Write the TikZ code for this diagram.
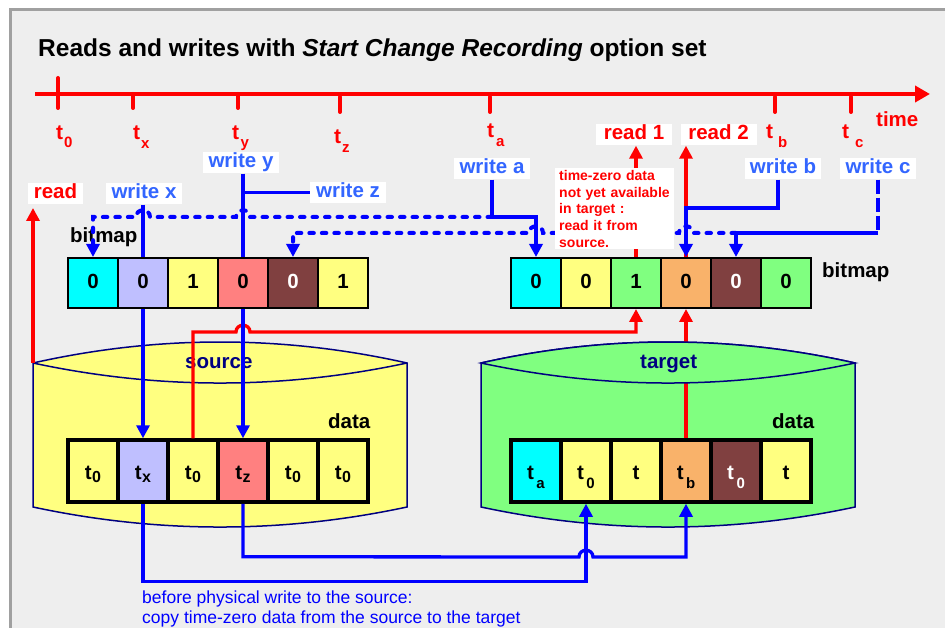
\documentclass[tikz,border=0pt]{standalone}
\usepackage{fontspec}
\setmainfont{Liberation Sans}
\usetikzlibrary{arrows.meta}
\definecolor{panelbg}{HTML}{EEEEEE}
\definecolor{panelbd}{HTML}{A0A0A0}
\definecolor{cCyan}{HTML}{00FFFF}
\definecolor{cLav}{HTML}{BFBFFF}
\definecolor{cYel}{HTML}{FFFF80}
\definecolor{cSal}{HTML}{FF8080}
\definecolor{cBrn}{HTML}{804040}
\definecolor{cGrn}{HTML}{80FF80}
\definecolor{cOra}{HTML}{F9B26A}
\definecolor{wblue}{HTML}{3366FF}
\definecolor{navyc}{HTML}{000080}
\newcommand{\tsb}[3]{t\kern#1\raisebox{-#2}{\fontsize{15}{15}\selectfont #3}}
\begin{document}
\begin{tikzpicture}[x=1pt,y=-1pt,
  arr/.style={-{Triangle[length=13pt,width=13pt]}},
  bl/.style={draw=blue,line width=3.3pt},
  rd/.style={draw=red,line width=3.3pt},
  dsh/.style={line width=4pt, dash pattern=on 4.5pt off 8pt, line cap=round},
  dshlong/.style={dash pattern=on 14pt off 4pt},
  lbl/.style={font=\fontsize{20.5}{24}\selectfont\bfseries, inner sep=0pt},
  tag/.style={lbl, fill=white, text height=14.5pt, text depth=4pt, inner xsep=3pt, inner ysep=1.5pt, minimum width=76pt, anchor=base},
  wtag/.style={tag, text=wblue},
  rtag/.style={tag, text=red},
  cell/.style={draw=black, line width=2pt, minimum width=50pt, minimum height=50pt, inner sep=0pt, text height=15pt, text depth=3pt, font=\fontsize{20.5}{24}\selectfont\bfseries},
  dcell/.style={cell, line width=3.5pt, minimum height=62pt, text height=16pt, text depth=0pt},
  tl/.style={font=\fontsize{21}{24}\selectfont\bfseries, text=red, inner sep=0pt, anchor=base west},
  cyl/.style={draw=navyc, line width=1.5pt}
]
\useasboundingbox (0,0) rectangle (945,628);
\fill[white] (0,0) rectangle (945,628);
\begin{scope}
\clip (0,0) rectangle (945,628);
\draw[panelbd, line width=3pt, fill=panelbg] (10,9.5) rectangle (980,660);
\end{scope}

% title
\node[anchor=base west, inner sep=0pt, font=\fontsize{24.5}{28}\selectfont\bfseries] (title) at (38,57)
  {Reads and writes with \textit{Start Change Recording} option set};

% timeline
\coordinate (tlS) at (35,94);
\coordinate (tlE) at (930,94);
\draw[red, line width=4pt, -{Triangle[length=15pt,width=16pt]}] (tlS) -- (tlE);
\foreach \x/\a/\b in {58/78/108, 133/94/108, 238/94/108, 340/97/112, 490/97/112, 775/97/112, 851/97/112}
  \draw[red, line width=4pt, line cap=round] (\x,\a) -- (\x,\b);
\node[tl] (t0) at (56,140) {\tsb{1pt}{8pt}{0}};
\node[tl] (tx) at (133,140) {\tsb{1pt}{9pt}{x}};
\node[tl] (ty) at (232,140) {\tsb{1.5pt}{8pt}{y}};
\node[tl] (tz) at (334,144) {\tsb{1pt}{9pt}{z}};
\node[tl] (ta) at (487,138) {\tsb{2pt}{9pt}{a}};
\node[tl] (tb) at (766,139) {\tsb{5pt}{9pt}{b}};
\node[tl] (tc) at (842,139) {\tsb{6pt}{9pt}{c}};
\node[lbl, text=red, anchor=base west] (time) at (876,127) {time};

% cylinders
\draw[cyl, fill=cYel] (33,363) -- (33,507) .. controls (157.7,533.7) and (282.3,533.7) .. (407,507) -- (407,363) .. controls (282.3,335) and (157.7,335) .. (33,363) -- cycle;
\draw[cyl] (33,363) .. controls (157.7,389.7) and (282.3,389.7) .. (407,363);
\draw[cyl, fill=cGrn] (481,363) -- (481,507) .. controls (605.7,533.7) and (730.3,533.7) .. (855,507) -- (855,363) .. controls (730.3,335) and (605.7,335) .. (481,363) -- cycle;

% cells
\foreach \i/\c/\t/\k in {1/cCyan/0/black,2/cLav/0/black,3/cYel/1/black,4/cSal/0/black,5/cBrn/0/white,6/cYel/1/black}
  \node[cell, fill=\c, text=\k] (sb\i) at ({43+50*\i},283) {\t};
\foreach \i/\c/\t/\k in {1/cCyan/0/black,2/cYel/0/black,3/cGrn/1/black,4/cOra/0/black,5/cBrn/0/white,6/cGrn/0/black}
  \node[cell, fill=\c, text=\k] (tb\i) at ({486+50*\i},283) {\t};
\foreach \i/\c/\s/\k in {1/cYel/0/black,2/cLav/x/black,3/cYel/0/black,4/cSal/z/black,5/cYel/0/black,6/cYel/0/black}
  \node[dcell, fill=\c, text=\k] (sd\i) at ({43+50*\i},471) {t\kern0.5pt\raisebox{-3pt}{\fontsize{16}{16}\selectfont \s}};
\foreach \i/\c/\s/\k in {1/cCyan/a/black,2/cYel/0/black,4/cOra/b/black,5/cBrn/0/white}
  \node[dcell, fill=\c, text=\k] (td\i) at ({486+50*\i},471) {t\kern2.5pt\raisebox{-9pt}{\fontsize{15}{15}\selectfont \s}};
\node[dcell, fill=cYel] (td3) at (636,471) {t};
\node[dcell, fill=cYel] (td6) at (786,471) {t};

% target read line behind target lens
\draw[rd, arr] (td4.north) -- (tb4.south);
\draw[cyl, fill=cGrn] (481,363) .. controls (605.7,335) and (730.3,335) .. (855,363) .. controls (730.3,389.7) and (605.7,389.7) .. (481,363) -- cycle;

% labels
\node[lbl, text=navyc, anchor=base west] (srcl) at (185,368) {source};
\node[lbl, text=navyc, anchor=base west] (tgtl) at (640,368) {target};
\node[lbl, anchor=base west] (sdat) at (328,428) {data};
\node[lbl, anchor=base west] (tdat) at (772,428) {data};
\node[lbl, anchor=base west] (sbm) at (70,243) {bitmap};
\node[lbl, anchor=base west] (tbm) at (822,278) {bitmap};

% tags
\node[rtag, minimum width=55pt] (rl) at (55.5,199) {read};
\node[wtag] (wx) at (144,199) {write x};
\node[wtag] (wy) at (241,168) {write y};
\node[wtag] (wz) at (348,198) {write z};
\node[wtag] (wa) at (492,174) {write a};
\node[wtag] (wb) at (783,174) {write b};
\node[wtag] (wc) at (878,174) {write c};
\node[rtag] (r1) at (634,140) {read 1};
\node[rtag] (r2) at (718.5,140) {read 2};

% red connectors
\coordinate (rdS) at (33,363);
\coordinate (rdE) at (33,208);
\draw[rd, arr] (rdS) -- (rdE);
\draw[rd, arr] (tb3.north) -- (tb3.north |- r1.south);
\draw[rd, arr] (tb4.north) -- (tb4.north |- r2.south);
\draw[rd, arr] (sd3.north) |- (236,332) .. controls (236,323) and (250,323) .. (250,332) -| (tb3.south);

% blue connectors
\draw[bl] (wx.south -| sb2.north) -- (sb2.north);
\draw[bl, arr] (sb2.south) -- (sd2.north);
\draw[bl] (wy.south -| sb4.north) -- (sb4.north);
\draw[bl] (wz.west) -- (wz.west -| sb4.north);
\draw[bl, arr] (sb4.south) -- (sd4.north);
\coordinate (ja) at (492,217);
\draw[bl, arr] (wa.south) -- (ja) -| (tb1.north);
\coordinate (jb) at (778,208);
\draw[bl, arr] (wb.south -| jb) -- (jb) -| (tb4.north);
\coordinate (jc) at (878,233);
\draw[bl, dshlong] (wc.south) -- (jc);
\draw[bl, arr] (jc) -| (tb5.north);
\coordinate (jd) at (736,233);
\draw[bl, dsh, arr] (jd) -- (693,233) .. controls (693,224) and (679,224) .. (679,233) -- (543,233) .. controls (543,224) and (529,224) .. (529,233) -| (sb5.north);
\draw[bl, dsh, arr] (ja) -- (250,217) .. controls (250,208) and (236,208) .. (236,217) -- (150,217) .. controls (150,208) and (136,208) .. (136,217) -| (sb1.north);
\draw[bl, arr] (sd2.south) -- ++(0,78) -| (td2.south);
\draw[bl, arr] (sd4.south) -- ++(0,53) -- (579,557) .. controls (579,548) and (593,548) .. (593,557) -| (td4.south);

% note
\node[anchor=north west, fill=white, text=red, font=\fontsize{14}{16.7}\selectfont\bfseries, align=left, text width=111pt, inner xsep=4pt, inner ysep=2pt] (note) at (555,168)
  {time-zero data\\not yet available\\in target :\\read it from\\source.};

% bottom text
\node[anchor=base west, inner sep=0pt, text=blue, font=\fontsize{17.5}{20}\selectfont] (bt1) at (142,603) {before physical write to the source:};
\node[anchor=base west, inner sep=0pt, text=blue, font=\fontsize{17.5}{20}\selectfont] (bt2) at (142,623) {copy time-zero data from the source to the target};
\end{tikzpicture}
\end{document}
